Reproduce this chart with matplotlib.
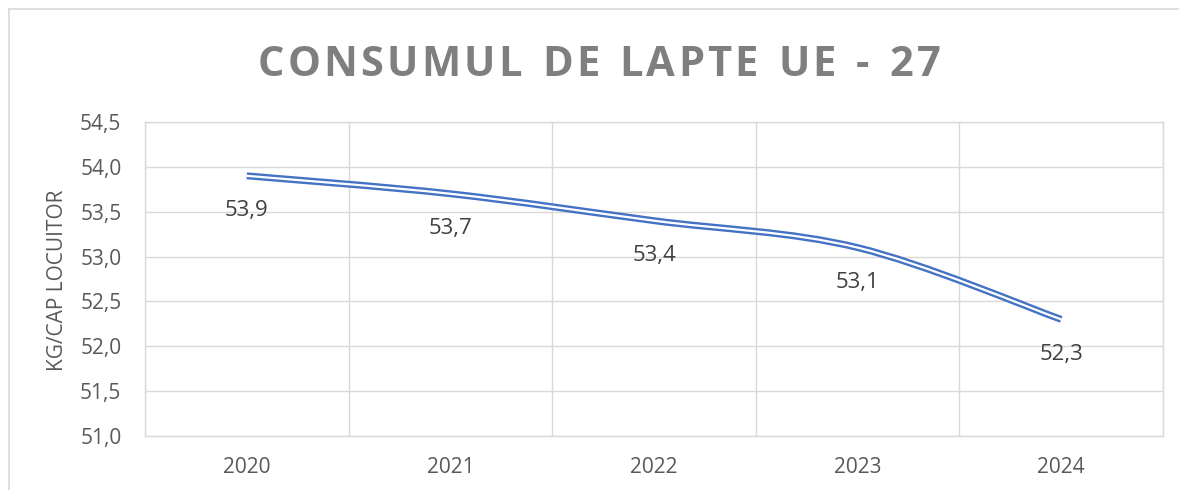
import matplotlib
matplotlib.use("Agg")
import matplotlib.pyplot as plt
from matplotlib.path import Path
from matplotlib.patches import PathPatch
from matplotlib.lines import Line2D
import numpy as np

# chart data
years = ["2020", "2021", "2022", "2023", "2024"]
consum = [53.9, 53.7, 53.4, 53.1, 52.3]
value_labels = ["53,9", "53,7", "53,4", "53,1", "52,3"]
y_ticks = [51.0, 51.5, 52.0, 52.5, 53.0, 53.5, 54.0, 54.5]
y_tick_labels = ["51,0", "51,5", "52,0", "52,5", "53,0", "53,5", "54,0", "54,5"]
title = "CONSUMUL DE LAPTE UE - 27"
y_title = "KG/CAP LOCUITOR"

BLUE = "#4472C4"
GRID = "#D9D9D9"
TXT = "#595959"

plt.rcParams["font.family"] = ["Open Sans", "DejaVu Sans"]

W, H = 1179, 490
fig = plt.figure(figsize=(W / 100, H / 100), dpi=100)
ax = fig.add_axes([145 / W, 1 - 436 / H, (1163 - 145) / W, (436 - 122) / H])

x = np.arange(len(years))
ax.set_xlim(-0.5, len(years) - 0.5)
ax.set_ylim(51.0, 54.5)
ax.set_yticks(y_ticks)
ax.set_yticklabels(y_tick_labels)
ax.set_xticks(x)
ax.set_xticklabels(years)
ax.set_xticks(np.arange(-0.5, len(years)), minor=True)
ax.tick_params(axis="both", which="both", length=0, labelsize=15, labelcolor=TXT)
ax.tick_params(axis="y", pad=17)
ax.tick_params(axis="x", pad=15)
ax.grid(axis="y", which="major", color=GRID, lw=1)
ax.grid(axis="x", which="minor", color=GRID, lw=1)
for s in ax.spines.values():
    s.set_color(GRID)
    s.set_linewidth(1)
ax.set_axisbelow(True)

# smoothed line (catmull-rom style bezier, like excel)
pts = np.column_stack([x, consum]).astype(float)
ext = np.vstack([pts[0], pts, pts[-1]])
verts = [tuple(pts[0])]
codes = [Path.MOVETO]
for i in range(len(pts) - 1):
    p0, p1, p2, p3 = ext[i], ext[i + 1], ext[i + 2], ext[i + 3]
    c1 = p1 + (p2 - p0) / 6
    c2 = p2 - (p3 - p1) / 6
    verts += [tuple(c1), tuple(c2), tuple(p2)]
    codes += [Path.CURVE4] * 3
path = Path(verts, codes)
ax.add_patch(PathPatch(path, fill=False, edgecolor=BLUE, lw=5.0, capstyle="butt", zorder=3))
ax.add_patch(PathPatch(path, fill=False, edgecolor="white", lw=1.6, capstyle="butt", zorder=4))

for xi, yi, lab in zip(x, consum, value_labels):
    ax.annotate(lab, (xi, yi), xytext=(0, -25), textcoords="offset points",
                ha="center", va="center", fontsize=16, color="#404040")

fig.text(58 / W, 1 - 280 / H, y_title, rotation=90, ha="center", va="center",
         fontsize=15, color=TXT)

# title with letter spacing
fig.canvas.draw()
r = fig.canvas.get_renderer()
fs = 30
spacing = 3.2
widths = []
for ch in title:
    t = fig.text(0, 0, ch if ch != " " else "n", fontsize=fs, fontweight="bold")
    w = t.get_window_extent(r).width
    if ch == " ":
        w *= 0.5
    widths.append(w)
    t.remove()
total = sum(widths) + spacing * (len(title) - 1)
xpos = 599 - total / 2
for ch, w in zip(title, widths):
    if ch != " ":
        fig.text(xpos / W, 1 - 76 / H, ch, fontsize=fs, fontweight="bold",
                 color="#7F7F7F", ha="left", va="baseline")
    xpos += w + spacing

# chart border
fig.add_artist(Line2D([8.5 / W, 8.5 / W], [0, 1 - 9.5 / H], color=GRID, lw=1.2))
fig.add_artist(Line2D([8.5 / W, 1], [1 - 9.5 / H, 1 - 9.5 / H], color=GRID, lw=1.2))

fig.savefig("out.png", dpi=100)
